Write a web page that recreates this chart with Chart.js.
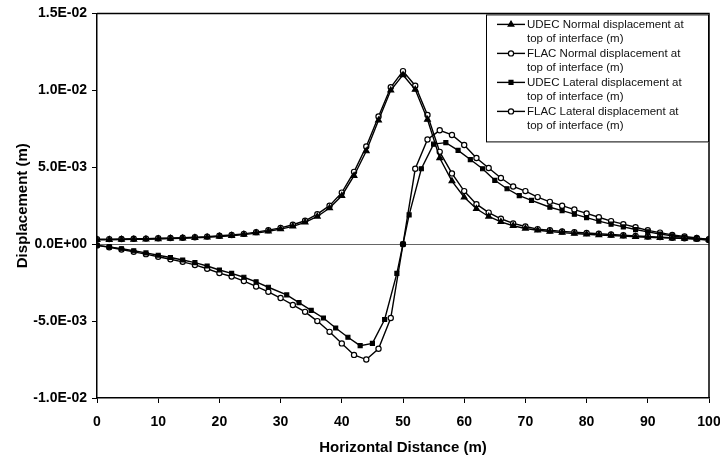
<!DOCTYPE html>
<html lang="en">
<head>
  <meta charset="UTF-8">
  <title>Displacement at top of interface</title>
  <script src="https://cdn.jsdelivr.net/npm/chart.js"></script>
  <style>
    body { margin: 0; background: #fff; }
    .wrap { width: 720px; height: 457px; }
  </style>
</head>
<body>
  <div class="wrap"><canvas id="dispChart" width="720" height="457"></canvas></div>

  <script>
    // Horizontal distance (m)
    const xEven = [0,2,4,6,8,10,12,14,16,18,20,22,24,26,28,30,32,34,36,38,40,42,44,46,48,50,
                   52,54,56,58,60,62,64,66,68,70,72,74,76,78,80,82,84,86,88,90,92,94,96,98,100];
    const xUdecLateral = [0,2,4,6,8,10,12,14,16,18,20,22,24,26,28,31,33,35,37,39,41,43,45,47,49,50,
                          51,53,55,57,59,61,63,65,67,69,71,74,76,78,80,82,84,86,88,90,92,94,96,98,100];

    // Displacements, in mm (axis labels are shown in metres)
    const udecNormal = [0.28,0.29,0.3,0.31,0.32,0.34,0.36,0.38,0.41,0.45,0.5,0.55,0.62,0.72,0.84,0.98,1.16,1.42,1.8,2.35,
                        3.15,4.45,6.05,8.05,10.0,11.0,10.05,8.1,5.6,4.1,3.05,2.3,1.8,1.45,1.2,1.02,0.9,0.82,0.75,0.69,
                        0.64,0.6,0.56,0.52,0.48,0.45,0.42,0.39,0.36,0.33,0.3];
    const flacNormal = [0.32,0.33,0.34,0.35,0.36,0.38,0.4,0.42,0.45,0.49,0.55,0.6,0.67,0.78,0.91,1.06,1.26,1.52,1.95,2.5,
                        3.35,4.7,6.35,8.3,10.2,11.25,10.3,8.4,6.0,4.6,3.45,2.6,2.05,1.65,1.35,1.15,0.98,0.9,0.83,0.78,
                        0.73,0.68,0.63,0.58,0.54,0.5,0.46,0.42,0.38,0.35,0.32];
    const udecLateral = [-0.08,-0.18,-0.3,-0.43,-0.57,-0.72,-0.87,-1.03,-1.2,-1.42,-1.68,-1.9,-2.15,-2.45,-2.8,
                         -3.3,-3.8,-4.3,-4.8,-5.45,-6.05,-6.6,-6.45,-4.9,-1.9,0,
                         1.9,4.9,6.5,6.6,6.1,5.5,4.9,4.15,3.6,3.15,2.85,
                         2.4,2.18,1.95,1.72,1.5,1.3,1.12,0.95,0.8,0.66,0.54,0.43,0.34,0.25];
    const flacLateral = [-0.08,-0.2,-0.35,-0.5,-0.65,-0.82,-0.98,-1.15,-1.35,-1.6,-1.88,-2.1,-2.4,-2.75,-3.1,-3.5,
                         -3.95,-4.4,-5.0,-5.7,-6.45,-7.2,-7.5,-6.8,-4.8,0,4.9,6.8,7.4,7.1,6.45,5.6,4.95,4.3,3.75,
                         3.45,3.06,2.75,2.5,2.25,2.0,1.75,1.5,1.3,1.1,0.9,0.75,0.6,0.5,0.4,0.3];

    const yTickLabels = ['-1.0E-02', '-5.0E-03', '0.0E+00', '5.0E-03', '1.0E-02', '1.5E-02'];
    const seriesNames = [
      ['UDEC Normal displacement at', 'top of interface (m)'],
      ['FLAC Normal displacement at', 'top of interface (m)'],
      ['UDEC Lateral displacement at', 'top of interface (m)'],
      ['FLAC Lateral displacement at', 'top of interface (m)']
    ];

    const FONT = "'Liberation Sans', Arial, sans-serif";

    function pts(xs, ys) {
      return xs.map((x, i) => ({ x: x, y: ys[i] }));
    }

    function series(name, xs, ys, style, filled, radius) {
      return {
        label: name,
        data: pts(xs, ys),
        borderColor: '#000',
        borderWidth: 1.4,
        pointStyle: style,
        pointRadius: radius,
        pointBorderWidth: 1.2,
        pointBorderColor: '#000',
        pointBackgroundColor: filled ? '#000' : '#fff',
        tension: 0,
        fill: false
      };
    }

    // plot frame + legend box drawn inside the plot, top right
    const boxLegend = {
      id: 'boxLegend',
      afterDraw(chart) {
        const ctx = chart.ctx;
        const a = chart.chartArea;
        ctx.save();
        ctx.strokeStyle = '#000';
        ctx.lineWidth = 1.5;
        ctx.beginPath();
        ctx.moveTo(a.left, a.top);
        ctx.lineTo(a.right, a.top);
        ctx.lineTo(a.right, a.bottom);
        ctx.stroke();

        const bw = 223, bh = 128;
        const bx = a.right - bw, by = a.top + 1;
        ctx.fillStyle = '#fff';
        ctx.fillRect(bx, by, bw, bh);
        ctx.lineWidth = 1;
        ctx.strokeRect(bx + 0.5, by + 0.5, bw - 1, bh - 1);

        ctx.font = '11.5px ' + FONT;
        ctx.textBaseline = 'middle';
        chart.data.datasets.forEach((ds, i) => {
          const y = by + 10 + i * 29;
          ctx.strokeStyle = '#000';
          ctx.lineWidth = 1.4;
          ctx.beginPath();
          ctx.moveTo(bx + 11, y);
          ctx.lineTo(bx + 39, y);
          ctx.stroke();
          ctx.fillStyle = ds.pointBackgroundColor;
          ctx.lineWidth = 1.2;
          Chart.helpers.drawPoint(ctx, {
            pointStyle: ds.pointStyle, radius: ds.pointRadius, borderWidth: 1.2, rotation: 0
          }, bx + 25, y);
          ctx.fillStyle = '#111';
          seriesNames[i].forEach((line, j) => ctx.fillText(line, bx + 41, y + j * 14.5));
        });
        ctx.restore();
      }
    };

    new Chart(document.getElementById('dispChart').getContext('2d'), {
      type: 'line',
      data: {
        datasets: [
          series('UDEC Normal', xEven, udecNormal, 'triangle', true, 3.3),
          series('FLAC Normal', xEven, flacNormal, 'circle', false, 2.6),
          series('UDEC Lateral', xUdecLateral, udecLateral, 'rect', true, 2.8),
          series('FLAC Lateral', xEven, flacLateral, 'circle', false, 2.6)
        ]
      },
      options: {
        responsive: false,
        animation: false,
        layout: { padding: { left: 0, right: 0, top: 13, bottom: 0 } },
        plugins: {
          legend: { display: false },
          tooltip: { enabled: false }
        },
        scales: {
          x: {
            type: 'linear',
            min: 0,
            max: 100,
            // keep the last label ("100") hanging past the plot edge, as in the original
            afterFit: s => { s.height = 59; s.paddingRight = 11; },
            ticks: {
              stepSize: 10,
              padding: 11,
              color: '#000',
              font: { family: FONT, size: 14, weight: 'bold' }
            },
            grid: { color: 'rgba(0,0,0,0)', tickColor: '#000', tickLength: 5 },
            border: { color: '#000', width: 1.5 },
            title: {
              display: true,
              text: 'Horizontal Distance (m)',
              color: '#000',
              padding: { top: 0, bottom: 0 },
              font: { family: FONT, size: 15, weight: 'bold' }
            }
          },
          y: {
            min: -10,
            max: 15,
            afterFit: s => { s.width = 97; },
            ticks: {
              stepSize: 5,
              padding: 5,
              color: '#000',
              font: { family: FONT, size: 14, weight: 'bold' },
              callback: (v, i) => yTickLabels[i]
            },
            grid: {
              color: c => (c.tick && Math.abs(c.tick.value) < 1e-9) ? '#666' : 'rgba(0,0,0,0)',
              tickColor: '#000',
              tickLength: 5
            },
            border: { color: '#000', width: 1.5 },
            title: {
              display: true,
              text: 'Displacement (m)',
              color: '#000',
              padding: { top: 14, bottom: 0 },
              font: { family: FONT, size: 15, weight: 'bold' }
            }
          }
        }
      },
      plugins: [boxLegend]
    });
  </script>
</body>
</html>
